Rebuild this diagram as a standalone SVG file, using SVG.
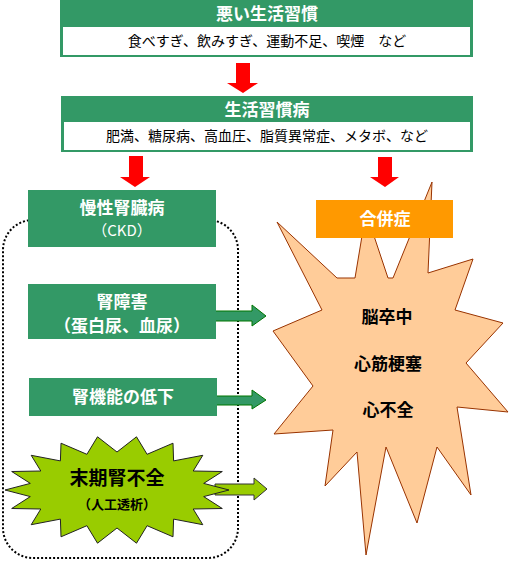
<svg xmlns="http://www.w3.org/2000/svg" width="511" height="561" viewBox="0 0 511 561">
<style>
.t{font-family:"Noto Sans CJK JP","Noto Sans",sans-serif;text-anchor:middle}
.w{fill:#fff;font-weight:bold;font-size:17px}
.b{fill:#000;font-size:14px}
.k{fill:#000;font-weight:bold;font-size:17px}
.g{fill:#339966}
.red{fill:#ff0000}
.ga{fill:#339966;stroke:#007700;stroke-width:1}
</style>
<rect width="511" height="561" fill="#fff"/>
<g id="dotted-group">
<rect x="3" y="220" width="235" height="338" rx="30" fill="none" stroke="#000" stroke-width="2" stroke-dasharray="2,2"/>
</g>
<g id="burst">
<polygon points="432,182 428,273 473,259 455,310 503,323 466,363 508,412 457,407 471,495 437,447 417,523 386,447 366,555 357,452 325,486 333,430 274,434 313,386 273,331 322,310 277,222 337,278 355,278 366,212 388,278 393,278" fill="#ffcc99" stroke="#993300" stroke-width="1"/>
<text class="t k" x="387" y="323">脳卒中</text>
<text class="t k" x="388" y="370">心筋梗塞</text>
<text class="t k" x="388" y="416">心不全</text>
</g>
<g id="connectors">
<polygon class="red" points="236,63 250,63 250,83 258,83 243,93 227,83 236,83"/>
<polygon class="red" points="129,156 143,156 143,177 150,177 135,187 120,177 129,177"/>
<polygon class="red" points="378,157 392,157 392,177 399,177 385,187 370,177 378,177"/>
<polygon class="ga" points="213,311 252,311 252,305 266,316 252,326 252,321 213,321"/>
<polygon class="ga" points="213,396 252,396 252,390 266,400 252,409 252,405 213,405"/>
<polygon fill="#99cc00" stroke="#333" stroke-width="1" points="215,484 254,484 254,478 267,489 254,500 254,495 215,495"/>
</g>
<g id="bad-habits">
<rect class="g" x="60" y="0" width="413" height="57"/>
<rect x="63" y="27" width="407" height="28" fill="#fff"/>
<text class="t w" x="267" y="20">悪い生活習慣</text>
<text class="t b" x="267" y="46">食べすぎ、飲みすぎ、運動不足、喫煙　など</text>
</g>
<g id="lifestyle-disease">
<rect class="g" x="61" y="96" width="412" height="56"/>
<rect x="64" y="122" width="406" height="28" fill="#fff"/>
<text class="t w" x="267" y="116">生活習慣病</text>
<text class="t b" x="267" y="141">肥満、糖尿病、高血圧、脂質異常症、メタボ、など</text>
</g>
<g id="ckd">
<rect class="g" x="28" y="190" width="188" height="57"/>
<text class="t w" x="122" y="214">慢性腎臓病</text>
<text class="t w" x="122" y="236" style="font-weight:normal;font-size:15px">（CKD）</text>
</g>
<g id="complications">
<rect x="316" y="200" width="137" height="38" fill="#ff9900"/>
<text class="t w" x="385" y="225">合併症</text>
</g>
<g id="kidney-damage">
<rect class="g" x="28" y="284" width="188" height="55"/>
<text class="t w" x="122" y="308">腎障害</text>
<text class="t w" x="122" y="332">（蛋白尿、血尿）</text>
</g>
<g id="kidney-decline">
<rect class="g" x="29" y="378" width="188" height="38"/>
<text class="t w" x="123" y="403">腎機能の低下</text>
</g>
<g id="esrd">
<polygon fill="#99cc00" stroke="#222" stroke-width="1" points="229,490 203.7,483.4 222.3,471.5 193.2,471 202.8,455.3 173.6,460.9 173,443.2 147.1,454.3 136.5,436.8 117,452 97.5,436.8 86.9,454.3 61,443.2 60.4,460.9 31.2,455.3 40.8,471 11.7,471.5 30.3,483.4 5,490 30.3,496.6 11.7,508.5 40.8,509 31.2,524.7 60.4,519.1 61,536.8 86.9,525.7 97.5,543.2 117,528 136.5,543.2 147.1,525.7 173,536.8 173.6,519.1 202.8,524.7 193.2,509 222.3,508.5 203.7,496.6"/>
<text class="t k" x="117" y="485" style="font-size:19px">末期腎不全</text>
<text class="t k" x="117" y="509" style="font-size:13px">（人工透析）</text>
</g>
</svg>
